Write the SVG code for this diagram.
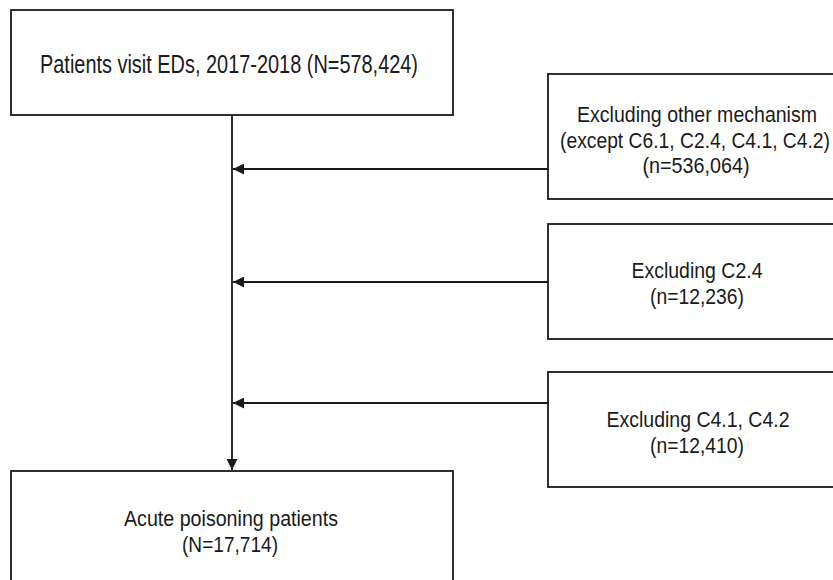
<svg xmlns="http://www.w3.org/2000/svg" width="833" height="580" viewBox="0 0 833 580">
<style>
.box{fill:#fff;stroke:#1a1a1a;stroke-width:1.8}
.t{font-family:"Liberation Sans",Arial,sans-serif;fill:#1a1a1a;text-anchor:middle}
.big{font-size:26px}
.sm{font-size:22px}
.ln{stroke:#1a1a1a;stroke-width:1.8;fill:none}
</style>
<defs>
<marker id="ah" viewBox="0 0 10 10" refX="10" refY="5" markerWidth="11" markerHeight="11" markerUnits="userSpaceOnUse" orient="auto">
<path d="M0,0 L10,5 L0,10 Z" fill="#1a1a1a"/>
</marker>
</defs>
<rect width="833" height="580" fill="#fff"/>
<g id="connectors">
<line class="ln" x1="232" y1="115" x2="232" y2="470" marker-end="url(#ah)"/>
<line class="ln" x1="548" y1="169" x2="233" y2="169" marker-end="url(#ah)"/>
<line class="ln" x1="548" y1="282" x2="233" y2="282" marker-end="url(#ah)"/>
<line class="ln" x1="548" y1="403" x2="233" y2="403" marker-end="url(#ah)"/>
</g>
<g id="start">
<rect class="box" x="11" y="10" width="442" height="105"/>
<text class="t big" x="229" y="73" textLength="378" lengthAdjust="spacingAndGlyphs">Patients visit EDs, 2017-2018 (N=578,424)</text>
</g>
<g id="excl1">
<rect class="box" x="548" y="74" width="300" height="125"/>
<text class="t sm" x="697" y="122" textLength="240" lengthAdjust="spacingAndGlyphs">Excluding other mechanism</text>
<text class="t sm" x="695" y="148" textLength="270" lengthAdjust="spacingAndGlyphs">(except C6.1, C2.4, C4.1, C4.2)</text>
<text class="t sm" x="696" y="173" textLength="107" lengthAdjust="spacingAndGlyphs">(n=536,064)</text>
</g>
<g id="excl2">
<rect class="box" x="548" y="224" width="300" height="115"/>
<text class="t sm" x="697" y="278" textLength="131" lengthAdjust="spacingAndGlyphs">Excluding C2.4</text>
<text class="t sm" x="697" y="304" textLength="94" lengthAdjust="spacingAndGlyphs">(n=12,236)</text>
</g>
<g id="excl3">
<rect class="box" x="548" y="372" width="300" height="115"/>
<text class="t sm" x="698" y="427" textLength="183" lengthAdjust="spacingAndGlyphs">Excluding C4.1, C4.2</text>
<text class="t sm" x="697" y="453" textLength="94" lengthAdjust="spacingAndGlyphs">(n=12,410)</text>
</g>
<g id="result">
<rect class="box" x="11" y="471" width="442" height="130"/>
<text class="t sm" x="231" y="526" textLength="214" lengthAdjust="spacingAndGlyphs">Acute poisoning patients</text>
<text class="t sm" x="230" y="552" textLength="96" lengthAdjust="spacingAndGlyphs">(N=17,714)</text>
</g>
</svg>
